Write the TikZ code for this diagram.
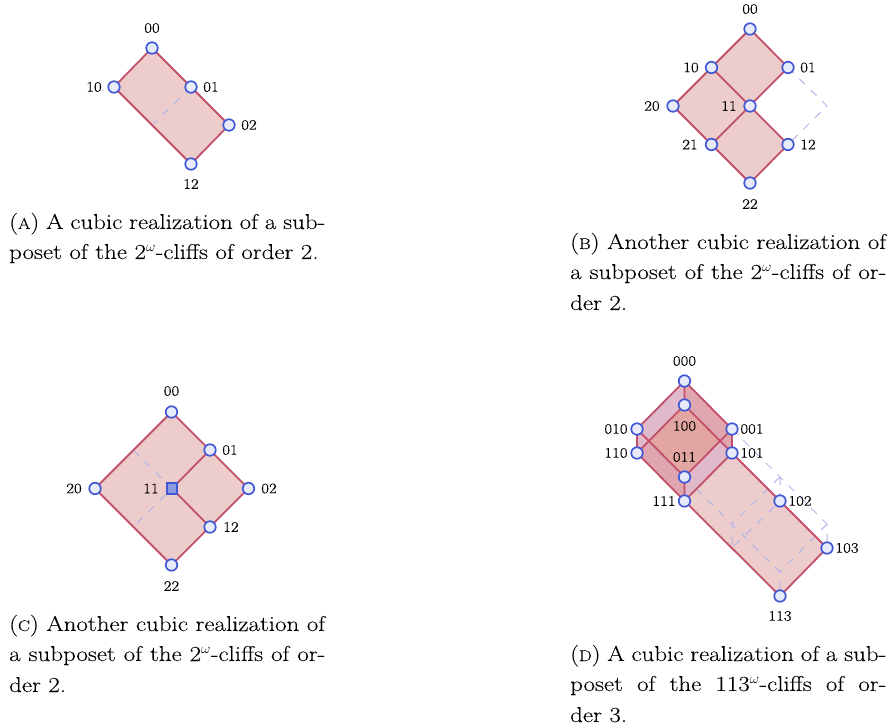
\documentclass[tikz,border=0pt]{standalone}
\usepackage{fontspec}
\setmainfont[FakeStretch=1.16,FakeBold=0.05]{Latin Modern Roman}
\usetikzlibrary{calc}
\definecolor{facepink}{HTML}{ECCDCB}
\definecolor{edgered}{HTML}{C2506A}
\definecolor{vblue}{HTML}{4058D4}
\definecolor{vfill}{HTML}{E8ECFA}
\definecolor{hid}{HTML}{B4B4EA}
\definecolor{squarefill}{HTML}{8C9BE0}
\definecolor{facepurple}{HTML}{E0B9CA}
\definecolor{facedeep}{HTML}{E0A6AF}
\definecolor{facecentre}{HTML}{E2A5A1}
\newcommand{\scp}[1]{{\fontsize{15.5}{18}\selectfont #1}}
\tikzset{
 x=1pt,y=-1pt,
 vtx/.style={circle,draw=vblue,fill=vfill,line width=1.7pt,minimum size=11.5pt,inner sep=0pt},
 sqv/.style={rectangle,draw=vblue,fill=squarefill,line width=1.7pt,minimum size=10.5pt,inner sep=0pt},
 lab/.style={font=\fontsize{14.5}{16}\selectfont,inner sep=0pt},
 captext/.style={font=\fontsize{21.5}{25}\selectfont,inner sep=0pt,anchor=base west},
 edgeline/.style={draw=edgered,line width=1.8pt},
 face/.style={fill=facepink,draw=none},
 hiddenline/.style={draw=hid,line width=1pt,dash pattern=on 8pt off 8pt},
}
\newcommand{\capline}[4]{\node[captext] (#1) at (#2) {\makebox[#3pt][s]{#4}};}
\begin{document}
\begin{tikzpicture}
\useasboundingbox (0,0) rectangle (889,727);
% ---- A
\coordinate (a00) at (152,48);\coordinate (a10) at (114,87);\coordinate (a01) at (191,87);\coordinate (a02) at (229,125);\coordinate (a12) at (191,164);
\coordinate (ah) at (152,125);
\fill[face] (a00)--(a01)--(a02)--(a12)--(a10)--cycle;
\draw[hiddenline] (a01)--(ah);
\draw[edgeline] (a00)--(a02)--(a12)--(a10)--cycle;
\foreach \n in {a00,a10,a01,a02,a12}{\node[vtx] (n\n) at (\n) {};}
\node[lab] (la00) at (152,28) {00};\node[lab] (la10) at (94,87) {10};\node[lab] (la01) at (211,87) {01};\node[lab] (la02) at (249,125) {02};\node[lab] (la12) at (191,184) {12};
\capline{ca1}{9,229}{316}{(\scp{A}) A cubic realization of a sub-}
\node[captext] (ca2) at (9,259) {poset of the 2$^{\omega}$-cliffs of order 2.};
% ---- B
\coordinate (b00) at (750,29);\coordinate (b10) at (711.5,67.5);\coordinate (b01) at (788,67.5);\coordinate (b20) at (673,106);\coordinate (b11) at (750,106);\coordinate (b21) at (711.5,144.5);\coordinate (b12) at (788,144.5);\coordinate (b22) at (750,183);\coordinate (bh) at (827,106);
\fill[face] (b00)--(b01)--(b11)--(b12)--(b22)--(b20)--cycle;
\draw[hiddenline] (b01)--(bh)--(b12);
\draw[edgeline] (b00)--(b01)--(b21)  (b10)--(b12)--(b22)--(b20)--(b00);
\foreach \n in {b00,b10,b01,b20,b11,b21,b12,b22}{\node[vtx] (n\n) at (\n) {};}
\node[lab] (lb00) at (750,9) {00};\node[lab] (lb10) at (691,67.5) {10};\node[lab] (lb01) at (808,67.5) {01};\node[lab] (lb20) at (652,106) {20};\node[lab] (lb11) at (729,106) {11};\node[lab] (lb21) at (690,144.5) {21};\node[lab] (lb12) at (808,144.5) {12};\node[lab] (lb22) at (750,204) {22};
\capline{cb1}{570,249}{316}{(\scp{B}) Another cubic realization of}
\capline{cb2}{570,279}{316}{a subposet of the 2$^{\omega}$-cliffs of or-}
\node[captext] (cb3) at (570,310) {der 2.};
% ---- C
\coordinate (c00) at (171.5,412);\coordinate (c01) at (210,450);\coordinate (c02) at (248.5,488.5);\coordinate (c20) at (95,488.5);\coordinate (c11) at (172,488.5);\coordinate (c12) at (210,527);\coordinate (c22) at (171.5,565);\coordinate (ch1) at (133,450);\coordinate (ch2) at (133,527);
\fill[face] (c00)--(c02)--(c22)--(c20)--cycle;
\draw[hiddenline] (ch1)--(c11)--(ch2);
\draw[edgeline] (c00)--(c02)--(c22)--(c20)--cycle (c01)--(c11)--(c12);
\foreach \n in {c00,c01,c02,c20,c12,c22}{\node[vtx] (n\n) at (\n) {};}
\node[sqv] (nc11) at (c11) {};
\node[lab] (lc00) at (171.5,391) {00};\node[lab] (lc01) at (230,450) {01};\node[lab] (lc02) at (269,488.5) {02};\node[lab] (lc20) at (74,488.5) {20};\node[lab] (lc11) at (151,488.5) {11};\node[lab] (lc12) at (231,527) {12};\node[lab] (lc22) at (171.5,586) {22};
\capline{cc1}{9,631}{316}{(\scp{C}) Another cubic realization of}
\capline{cc2}{9,661}{316}{a subposet of the 2$^{\omega}$-cliffs of or-}
\node[captext] (cc3) at (9,692) {der 2.};
% ---- D
\coordinate (d000) at (684.5,381);\coordinate (d100) at (684.5,405);\coordinate (d010) at (637,429);\coordinate (d001) at (732,429);\coordinate (d110) at (637,453);\coordinate (d101) at (732,453);\coordinate (d011) at (684.5,477);\coordinate (d111) at (684.5,501);\coordinate (d102) at (780,501);\coordinate (d103) at (827,548);\coordinate (d113) at (780,596);
\coordinate (dh1) at (780,477);\coordinate (dh2) at (827,524);\coordinate (dh3) at (732,524);\coordinate (dh4) at (780,572);\coordinate (dh5) at (732,548);
\coordinate (xl) at (649,441);\coordinate (xr) at (720,441);
\fill[face] (d101)--(d103)--(d113)--(d111)--cycle;
\draw[hiddenline] (d001)--(dh1)--(dh2)--(d103) (d011)--(dh4)--(d113) (dh1)--(dh3)--(dh5) (dh2)--(dh4) (dh1)--(d102)--(dh5);
\fill[facedeep] (d010)--(d110)--(d111)--(d011)--cycle;
\fill[facepurple] (d011)--(d001)--(d101)--(d111)--cycle;
\fill[facepurple] (d000)--(d010)--(d110)--(d100)--cycle;
\fill[facedeep] (d000)--(d001)--(d101)--(d100)--cycle;
\fill[facecentre] (d100)--(xr)--(d011)--(xl)--cycle;
\draw[edgeline] (d000)--(d010)--(d011)--(d001)--cycle (d100)--(d110)--(d111)--(d101)--cycle (d000)--(d100) (d010)--(d110) (d001)--(d101) (d011)--(d111) (d101)--(d103)--(d113)--(d111);
\foreach \n in {d000,d100,d010,d001,d110,d101,d011,d111,d102,d103,d113}{\node[vtx] (n\n) at (\n) {};}
\node[lab] (ld000) at (684.5,361) {000};\node[lab] (ld100) at (684.5,426) {100};\node[lab] (ld011) at (684.5,457) {011};\node[lab] (ld010) at (616,429) {010};\node[lab] (ld110) at (616,453) {110};\node[lab] (ld001) at (752,429) {001};\node[lab] (ld101) at (752,453) {101};\node[lab] (ld111) at (664,501) {111};\node[lab] (ld102) at (800,501) {102};\node[lab] (ld103) at (847,548) {103};\node[lab] (ld113) at (780,616) {113};
\capline{cd1}{570,661}{316}{(\scp{D}) A cubic realization of a sub-}
\capline{cd2}{570,691}{316}{poset of the 113$^{\omega}$-cliffs of or-}
\node[captext] (cd3) at (570,722) {der 3.};
\end{tikzpicture}
\end{document}
